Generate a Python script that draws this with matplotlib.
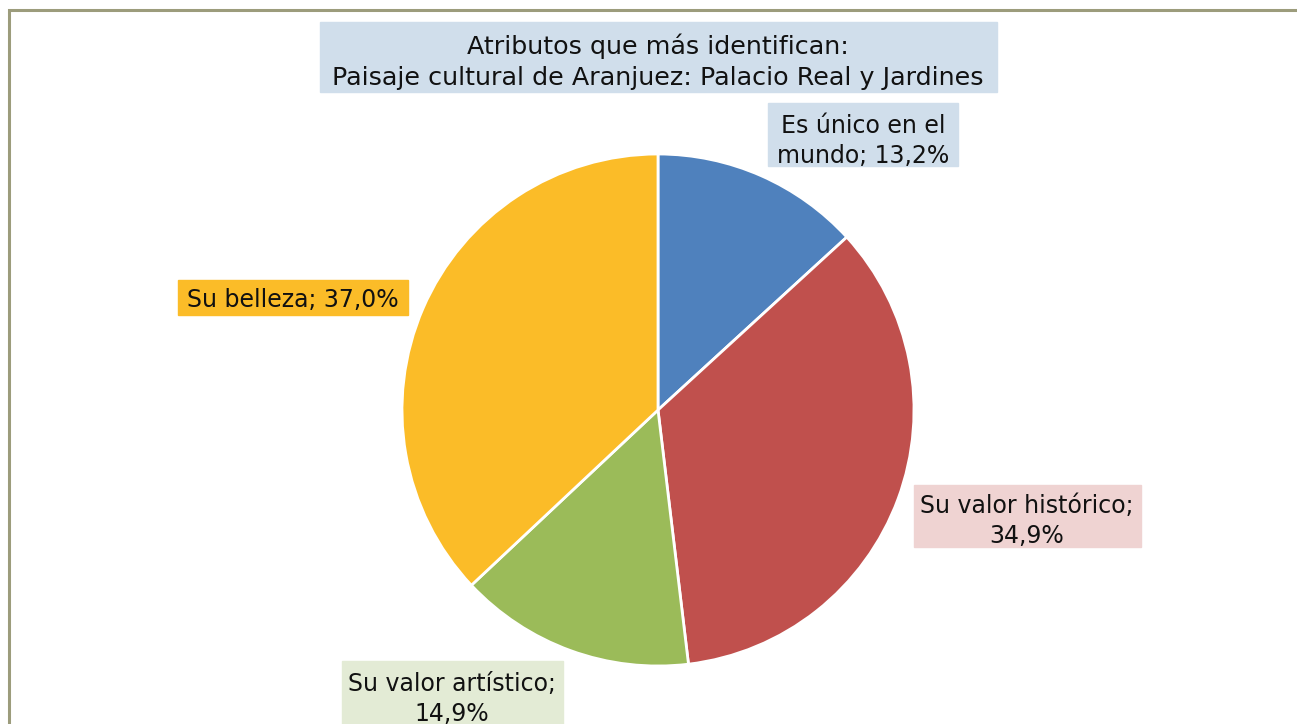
import matplotlib.pyplot as plt
from matplotlib.patches import Rectangle

# data
labels = ["Es único en el\nmundo", "Su valor histórico;\n", "Su valor artístico;\n", "Su belleza"]
values = [13.2, 34.9, 14.9, 37.0]
colors = ["#4F81BD", "#C0504D", "#9BBB59", "#FBBC28"]
box_colors = ["#D0DEEB", "#EFD3D2", "#E3EBD5", "#FBBC28"]
title = "Atributos que más identifican:\nPaisaje cultural de Aranjuez: Palacio Real y Jardines"

W, H = 1297, 724
fig = plt.figure(figsize=(W / 100, H / 100), dpi=100)
ax = fig.add_axes([0, 0, 1, 1])

def py(y):
    return H - y

# outer border (olive), extends off right/bottom
ax.add_patch(Rectangle((8.5, py(740)), 1400, 740 - 9.5, fill=False,
                       edgecolor="#9C9C7C", lw=2.2, zorder=0))

ax.pie(values, colors=colors, startangle=90, counterclock=False,
       center=(658, py(410)), radius=256,
       wedgeprops=dict(edgecolor="white", linewidth=2), frame=True)
ax.set_xlim(0, W)
ax.set_ylim(0, H)
ax.axis("off")

font = dict(family="DejaVu Sans", color="#111111",
            ha="center", va="center", linespacing=1.36)

# title
ax.add_patch(Rectangle((320, py(92)), 677, 70, color="#D0DEEB", zorder=1))
ax.text(658, py(62), title, zorder=2, fontsize=18.3, **font)

# label boxes: (x0, y0, x1, y1) in pixels
boxes = [(768, 103, 958, 166), (914, 485, 1141, 547),
         (342, 661, 563, 740), (178, 280, 408, 315)]
centers = [(863, 141), (1027, 521), (452, 699), (293, 300)]
for lab, v, bc, (x0, y0, x1, y1), (cx, cy) in zip(labels, values, box_colors, boxes, centers):
    txt = f"{v:.1f}%".replace(".", ",")
    if lab.endswith("\n"):
        s = lab + txt
    else:
        s = lab + "; " + txt
    ax.add_patch(Rectangle((x0, py(y1)), x1 - x0, y1 - y0, color=bc, zorder=1))
    ax.text(cx, py(cy), s, zorder=2, fontsize=17, **font)

fig.savefig("out.png", dpi=100)
